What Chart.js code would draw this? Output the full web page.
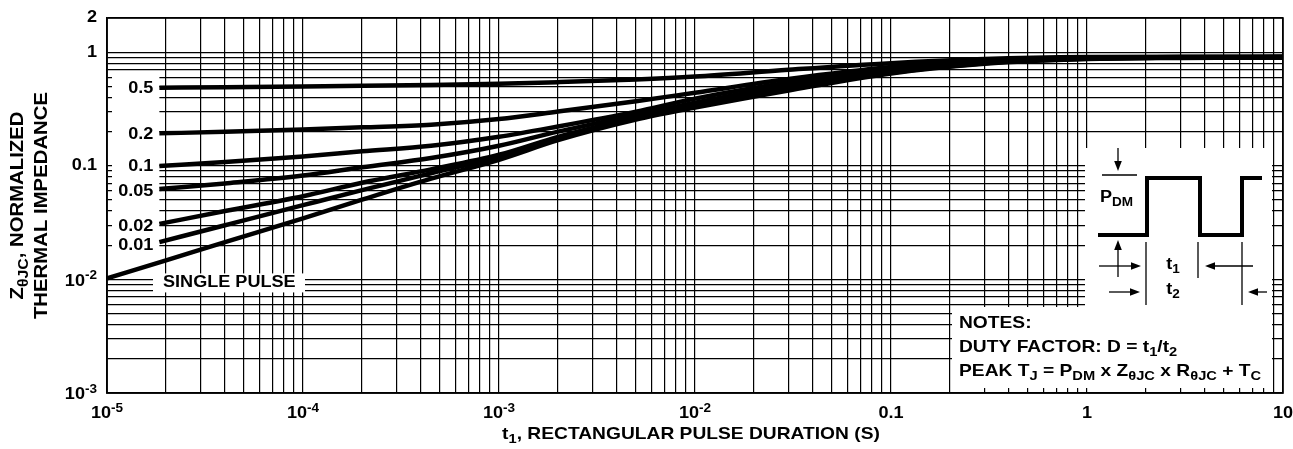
<!DOCTYPE html>
<html>
<head>
<meta charset="utf-8">
<script src="https://cdn.jsdelivr.net/npm/chart.js@4.4.1/dist/chart.umd.min.js"></script>
<style>
  html, body { margin: 0; padding: 0; background: #fff; }
  #wrap { width: 1293px; height: 449px; }
</style>
</head>
<body>
<div id="wrap"><canvas id="zthChart" width="1293" height="449"></canvas></div>
<script>
// pulse durations (s) where the duty-cycle curves were read
const pulseTimes = [1.85e-5, 4e-5, 1e-4, 2e-4, 4.5e-4, 1e-3, 2e-3, 5e-3, 1e-2, 3e-2, 0.1, 0.3, 1, 3, 10];
// pulse durations for the single pulse curve
const singleTimes = [1e-5, 2e-5, 4e-5, 1e-4, 2e-4, 4.5e-4, 1e-3, 2e-3, 5e-3, 1e-2, 3e-2, 0.1, 0.3, 1, 3, 10];

// normalized thermal impedance for each duty factor
const duty05 = [0.487, 0.492, 0.50, 0.506, 0.515, 0.528, 0.545, 0.575, 0.61, 0.70, 0.80, 0.87, 0.905, 0.91, 0.91];
const duty02 = [0.193, 0.199, 0.209, 0.218, 0.230, 0.258, 0.30, 0.37, 0.44, 0.58, 0.74, 0.845, 0.895, 0.905, 0.91];
const duty01 = [0.0998, 0.108, 0.121, 0.134, 0.150, 0.18, 0.222, 0.30, 0.39, 0.54, 0.71, 0.83, 0.89, 0.90, 0.905];
const duty005 = [0.0624, 0.070, 0.082, 0.097, 0.117, 0.15, 0.20, 0.28, 0.36, 0.51, 0.69, 0.82, 0.885, 0.90, 0.905];
const duty002 = [0.0308, 0.040, 0.054, 0.071, 0.093, 0.125, 0.18, 0.265, 0.345, 0.49, 0.67, 0.81, 0.88, 0.895, 0.90];
const duty001 = [0.0213, 0.030, 0.045, 0.061, 0.086, 0.12, 0.175, 0.26, 0.335, 0.475, 0.66, 0.80, 0.875, 0.895, 0.90];
const singlePulse = [0.0102, 0.0147, 0.0213, 0.0345, 0.0503, 0.077, 0.113, 0.168, 0.255, 0.325, 0.46, 0.65, 0.79, 0.87, 0.89, 0.90];

const dutyLabels = ['0.5', '0.2', '0.1', '0.05', '0.02', '0.01'];
const dutySeries = [duty05, duty02, duty01, duty005, duty002, duty001];

// grid lines
const xGridValues = [];
for (let e = -5; e <= 0; e++) {
    for (let k = 1; k <= 9; k++) xGridValues.push(k * Math.pow(10, e));
}
xGridValues.push(10);
const yGridValues = [];
for (let e = -3; e <= -1; e++) {
    for (let k = 1; k <= 9; k++) yGridValues.push(k * Math.pow(10, e));
}
yGridValues.push(1, 2);

// tick labels: [base, superscript]
const xTickValues = [1e-5, 1e-4, 1e-3, 1e-2, 0.1, 1, 10];
const xTickLabels = [['10', '-5'], ['10', '-4'], ['10', '-3'], ['10', '-2'], ['0.1'], ['1'], ['10']];
const yTickValues = [2, 1, 0.1, 0.01, 0.001];
const yTickLabels = [['2'], ['1'], ['0.1'], ['10', '-2'], ['10', '-3']];

const FONT = '"Liberation Sans", Arial, Helvetica, sans-serif';
const STRETCH = 1.13; // the printed lettering is a bit wider than Arial

function toPoints(xs, ys) {
    return xs.map((x, i) => ({ x: x, y: ys[i] }));
}

// draw text made of parts: [text, 'sub' | 'sup' | undefined]
function drawRich(ctx, parts, x, y, size, align) {
    const small = Math.round(size * 0.78);
    let total = 0;
    parts.forEach(p => {
        ctx.font = 'bold ' + (p[1] ? small : size) + 'px ' + FONT;
        total += ctx.measureText(p[0]).width * STRETCH;
    });
    let cx = align === 'center' ? x - total / 2 : (align === 'right' ? x - total : x);
    ctx.textAlign = 'left';
    ctx.textBaseline = 'middle';
    parts.forEach(p => {
        ctx.font = 'bold ' + (p[1] ? small : size) + 'px ' + FONT;
        let dy = 0;
        if (p[1] === 'sub') dy = size * 0.32;
        if (p[1] === 'sup') dy = -size * 0.36;
        ctx.save();
        ctx.translate(cx, y + dy);
        ctx.scale(STRETCH, 1);
        ctx.fillText(p[0], 0, 0);
        ctx.restore();
        cx += ctx.measureText(p[0]).width * STRETCH;
    });
}

function arrow(ctx, x1, y1, x2, y2) {
    // shaft from (x1,y1) to tip (x2,y2)
    const ang = Math.atan2(y2 - y1, x2 - x1);
    const len = 10, half = 3.8;
    ctx.beginPath();
    ctx.moveTo(x1, y1);
    ctx.lineTo(x2 - Math.cos(ang) * len, y2 - Math.sin(ang) * len);
    ctx.stroke();
    ctx.beginPath();
    ctx.moveTo(x2, y2);
    ctx.lineTo(x2 - Math.cos(ang) * len - Math.sin(ang) * half, y2 - Math.sin(ang) * len + Math.cos(ang) * half);
    ctx.lineTo(x2 - Math.cos(ang) * len + Math.sin(ang) * half, y2 - Math.sin(ang) * len - Math.cos(ang) * half);
    ctx.closePath();
    ctx.fill();
}

function line(ctx, x1, y1, x2, y2) {
    ctx.beginPath();
    ctx.moveTo(x1, y1);
    ctx.lineTo(x2, y2);
    ctx.stroke();
}

// white boxes behind labels, inset and notes
const knockoutPlugin = {
    id: 'knockout',
    beforeDatasetsDraw(chart) {
        const ctx = chart.ctx;
        const xs = chart.scales.x, ys = chart.scales.y;
        const left = chart.chartArea.left, right = chart.chartArea.right, bottom = chart.chartArea.bottom;
        ctx.save();
        ctx.fillStyle = '#fff';
        // duty factor label strip
        const x0 = xs.getPixelForValue(pulseTimes[0]);
        ctx.fillRect(left + 5, ys.getPixelForValue(duty05[0]) - 11, x0 - left - 5, ys.getPixelForValue(duty001[0]) - ys.getPixelForValue(duty05[0]) + 26);
        // single pulse label
        const sx = xs.getPixelForValue(singleTimes[0]);
        const sy = ys.getPixelForValue(singlePulse[0]);
        ctx.fillRect(sx + 46, sy - 5, 152, 19);
        // inset and notes
        ctx.fillRect(right - 198, 148, 187, 160);
        ctx.fillRect(right - 331, 307, 320, bottom - 5 - 307);
        // frame
        ctx.strokeStyle = '#000';
        ctx.lineWidth = 1.6;
        ctx.strokeRect(left, chart.chartArea.top, right - left, bottom - chart.chartArea.top);
        ctx.restore();
    }
};

const annotatePlugin = {
    id: 'annotate',
    afterDatasetsDraw(chart) {
        const ctx = chart.ctx;
        const xs = chart.scales.x, ys = chart.scales.y;
        const right = chart.chartArea.right;
        ctx.save();
        ctx.fillStyle = '#000';
        ctx.strokeStyle = '#000';

        // duty factor labels
        const x0 = xs.getPixelForValue(pulseTimes[0]);
        dutyLabels.forEach((lab, i) => {
            const y = ys.getPixelForValue(dutySeries[i][0]);
            drawRich(ctx, [[lab]], x0 - 6, y + (i > 2 ? 3 : 1), 16, 'right');
        });
        const sx = xs.getPixelForValue(singleTimes[0]);
        const sy = ys.getPixelForValue(singlePulse[0]);
        drawRich(ctx, [['SINGLE PULSE']], sx + 56, sy + 4, 16, 'left');

        // pulse waveform inset
        const ox = right - 185;
        ctx.lineWidth = 4;
        ctx.beginPath();
        ctx.moveTo(ox, 235);
        ctx.lineTo(ox + 49, 235);
        ctx.lineTo(ox + 49, 178);
        ctx.lineTo(ox + 102, 178);
        ctx.lineTo(ox + 102, 235);
        ctx.lineTo(ox + 144, 235);
        ctx.lineTo(ox + 144, 178);
        ctx.lineTo(ox + 164, 178);
        ctx.stroke();

        ctx.lineWidth = 1.3;
        line(ctx, ox + 4, 175, ox + 39, 175);
        arrow(ctx, ox + 20, 148, ox + 20, 171);
        arrow(ctx, ox + 20, 277, ox + 20, 240);
        arrow(ctx, ox + 1, 266, ox + 43, 266);
        arrow(ctx, ox + 155, 266, ox + 107, 266);
        arrow(ctx, ox + 11, 292, ox + 42, 292);
        arrow(ctx, ox + 169, 292, ox + 150, 292);
        line(ctx, ox + 48, 242, ox + 48, 305);
        line(ctx, ox + 100, 242, ox + 100, 278);
        line(ctx, ox + 144, 242, ox + 144, 305);

        drawRich(ctx, [['P'], ['DM', 'sub']], ox + 2, 198, 16, 'left');
        drawRich(ctx, [['t'], ['1', 'sub']], ox + 75, 265, 16, 'center');
        drawRich(ctx, [['t'], ['2', 'sub']], ox + 75, 290, 16, 'center');

        // notes
        const nx = right - 324;
        drawRich(ctx, [['NOTES:']], nx, 323, 17, 'left');
        drawRich(ctx, [['DUTY FACTOR: D = t'], ['1', 'sub'], ['/t'], ['2', 'sub']], nx, 347, 17, 'left');
        drawRich(ctx, [['PEAK T'], ['J', 'sub'], [' = P'], ['DM', 'sub'], [' x Z'], ['\u03B8JC', 'sub'],
            [' x R'], ['\u03B8JC', 'sub'], [' + T'], ['C', 'sub']], nx, 371, 17, 'left');
        ctx.restore();
    },
    afterDraw(chart) {
        const ctx = chart.ctx;
        const xs = chart.scales.x, ys = chart.scales.y;
        const area = chart.chartArea;
        ctx.save();
        ctx.fillStyle = '#000';

        // tick labels
        yTickValues.forEach((v, i) => {
            const lab = yTickLabels[i];
            const parts = lab.length > 1 ? [[lab[0]], [lab[1], 'sup']] : [[lab[0]]];
            drawRich(ctx, parts, area.left - 10, ys.getPixelForValue(v) + (lab.length > 1 ? 2 : 0), 16, 'right');
        });
        xTickValues.forEach((v, i) => {
            const lab = xTickLabels[i];
            const parts = lab.length > 1 ? [[lab[0]], [lab[1], 'sup']] : [[lab[0]]];
            drawRich(ctx, parts, xs.getPixelForValue(v), area.bottom + 21, 16, 'center');
        });

        // axis titles
        drawRich(ctx, [['t'], ['1', 'sub'], [', RECTANGULAR PULSE DURATION (S)']], 691, area.bottom + 41, 17, 'center');
        const cy = (area.top + area.bottom) / 2;
        ctx.translate(18, cy);
        ctx.rotate(-Math.PI / 2);
        drawRich(ctx, [['Z'], ['\u03B8JC', 'sub'], [', NORMALIZED']], 0, 0, 18, 'center');
        drawRich(ctx, [['THERMAL IMPEDANCE']], 0, 24, 18, 'center');
        ctx.restore();
    }
};

function initThermalChart() {
    const ctx = document.getElementById('zthChart').getContext('2d');

    const lineStyle = {
        borderColor: '#000',
        borderWidth: 4.5,
        pointRadius: 0,
        fill: false,
        cubicInterpolationMode: 'monotone'
    };

    const datasets = dutySeries.map((s, i) => Object.assign({
        label: dutyLabels[i],
        data: toPoints(pulseTimes, s)
    }, lineStyle));
    datasets.push(Object.assign({
        label: 'SINGLE PULSE',
        data: toPoints(singleTimes, singlePulse)
    }, lineStyle));

    const gridStyle = {
        color: '#000',
        lineWidth: 1.2,
        drawTicks: false
    };

    new Chart(ctx, {
        type: 'line',
        data: { datasets: datasets },
        options: {
            responsive: false,
            animation: false,
            devicePixelRatio: 1,
            layout: { padding: { left: 107, right: 10, top: 18, bottom: 56 } },
            plugins: {
                legend: { display: false },
                tooltip: { enabled: false }
            },
            scales: {
                x: {
                    type: 'logarithmic',
                    min: 1e-5,
                    max: 10,
                    afterBuildTicks: scale => { scale.ticks = xGridValues.map(v => ({ value: v })); },
                    ticks: { display: false },
                    grid: gridStyle,
                    border: { color: '#000', width: 1.6 }
                },
                y: {
                    type: 'logarithmic',
                    min: 1e-3,
                    max: 2,
                    afterBuildTicks: scale => { scale.ticks = yGridValues.map(v => ({ value: v })); },
                    ticks: { display: false },
                    grid: gridStyle,
                    border: { color: '#000', width: 1.6 }
                }
            }
        },
        plugins: [knockoutPlugin, annotatePlugin]
    });
}

document.addEventListener('DOMContentLoaded', initThermalChart);
</script>
</body>
</html>
